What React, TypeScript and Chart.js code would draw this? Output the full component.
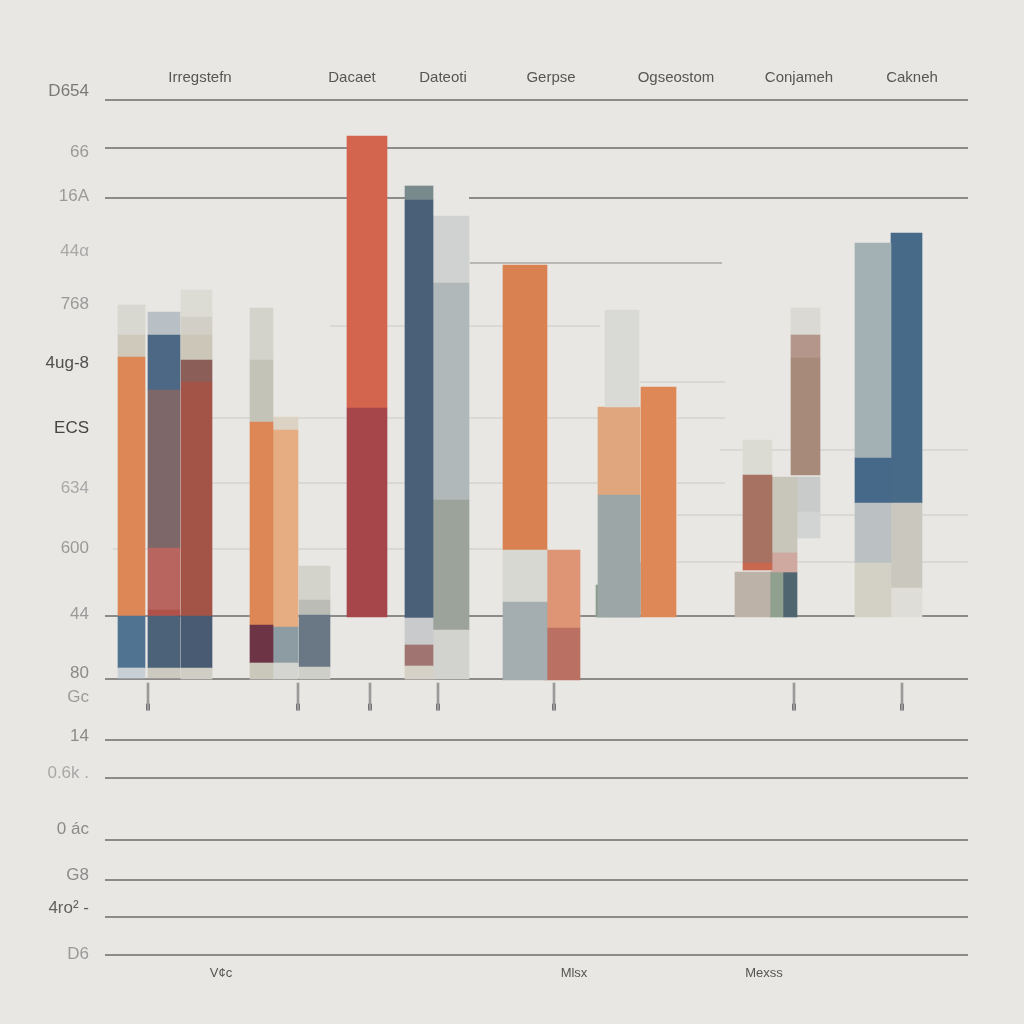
import React, { useEffect, useRef } from "react";
import { Chart, registerables } from "chart.js";

Chart.register(...registerables);

// ---- Axis labels / ticks ----
const topCategories = ["Irregstefn", "Dacaet", "Dateoti", "Gerpse", "Ogseostom", "Conjameh", "Cakneh"];
const topCategoryPos = [95, 247, 338, 446, 571, 694, 807];
const bottomCategories = ["V¢c", "Mlsx", "Mexss"];
const bottomCategoryPos = [116, 469, 659];
const yTickLabels = ["D654", "66", "16A", "44α", "768", "4ug-8", "ECS", "634", "600", "44", "80", "Gc", "14", "0.6k .", "0 ác", "G8", "4ro² -", "D6"];
const yTickValues = [864, 803, 759, 704, 651, 592, 527, 467, 407, 341, 282, 258, 219, 182, 126, 80, 47, 1];
const yTickColors = ["#7a7a7a", "#9a9a9a", "#9a9a9a", "#a8a8a8", "#999999", "#505050", "#454545", "#a8a8a8", "#999999", "#9a9a9a", "#8a8a8a", "#9a9a9a", "#8a8a8a", "#a8a8a8", "#8a8a8a", "#8a8a8a", "#606060", "#9a9a9a"];

// ---- Bar columns: value ranges [low, high] ----
const colA = [[620, 650], [598, 620], [339, 598], [287, 339], [277, 287]];
const colB = [[620, 643], [565, 620], [407, 565], [345, 407], [339, 345], [287, 339], [277, 287]];
const colC = [[638, 665], [620, 638], [595, 620], [573, 595], [339, 573], [287, 339], [276, 287]];
const colD = [[595, 647], [533, 595], [330, 533], [292, 330], [276, 292]];
const colE = [[525, 538], [328, 525], [292, 328], [276, 292]];
const colF = [[355, 389], [340, 355], [288, 340], [276, 288]];
const colG = [[547, 819], [338, 547]];
const colH = [[755, 769], [337, 755], [310, 337], [289, 310], [276, 289]];
const colI = [[672, 739], [455, 672], [325, 455], [276, 325]];
const colJ = [[405, 690], [353, 405], [275, 353]];
const colK = [[327, 405], [275, 327]];
const colL1 = [[548, 645]];
const colL2 = [[460, 548], [338, 460]];
const colL3 = [[338, 393]];
const colL4 = [[338, 370]];
const colM = [[338, 568]];
const colN0 = [[338, 383]];
const colN = [[480, 515], [392, 480], [385, 392]];
const colO = [[402, 478], [383, 402]];
const colO1 = [[338, 383]];
const colO2 = [[338, 383]];
const colP = [[620, 647], [597, 620], [480, 597]];
const colP1 = [[443, 478], [417, 443]];
const colQ = [[497, 712], [452, 497], [392, 452], [338, 392]];
const colR = [[452, 722], [367, 452], [338, 367]];

const columnRanges = [colA, colB, colC, colD, colE, colF, colG, colH, colI, colJ, colK, colL1, colL2, colL3, colL4, colM, colN0, colN, colO, colO1, colO2, colP, colP1, colQ, colR];
const columnPositions = [26.5, 59, 91.5, 156.5, 180.5, 209.5, 262, 314, 346, 420, 457.5, 517, 514, 521.5, 499.5, 553.5, 647.5, 652.5, 679.5, 671.5, 685, 700.5, 703.5, 768, 801.5];

// ---- styles ----
const columnWidths = [27, 32, 31, 23, 25, 31, 40, 28, 36, 44, 35, 34, 42, 27, 17, 35, 35, 29, 25, 13, 14, 29, 23, 36, 31];
const columnColors = [
  ["#d8d8d1", "#cfc9bb", "#dd8656", "#4f7390", "#c8d0d6"],
  ["#b8c0c6", "#4d6884", "#7d6769", "#b8645f", "#b0524a", "#4c6279", "#cbc9c0"],
  ["#dcdcd5", "#d2d0c6", "#ccc6b8", "#8c5e58", "#a45447", "#485b72", "#cfcdc4"],
  ["#d3d3cc", "#c4c3b8", "#dd8656", "#6c3444", "#c9c8bb"],
  ["#ddd3c5", "#e6ad82", "#8d9ca3", "#d4d5d0"],
  ["#d3d3cb", "#babcb5", "#6a7785", "#cfcfca"],
  ["#d3654f", "#a6464b"],
  ["#788a8c", "#4a5f78", "#c9cacb", "#a07470", "#d5d1c6"],
  ["#cfd2d0", "#b0b8b9", "#9ba39a", "#d2d3cf"],
  ["#d98150", "#d8d8d2", "#a4aeb0"],
  ["#dd9575", "#bb7064"],
  ["#d9dad5"],
  ["#e0a67e", "#9ca6a6"],
  ["#6b7889"],
  ["#8b9b8d"],
  ["#de8857"],
  ["#bcb2a7"],
  ["#dcdbd3", "#a87263", "#c8684f"],
  ["#c8c5bb", "#cfa8a0"],
  ["#8fa08f"],
  ["#4f6570"],
  ["#dbd9d3", "#b4968a", "#a88a7b"],
  ["#c9cbca", "#d2d4d3"],
  ["#a4b1b4", "#46698a", "#bbc1c3", "#d3d1c5"],
  ["#466a88", "#cac8be", "#dfddd7"],
];

// ---- small tick markers below the baseline ----
const markerPositions = [43, 193, 265, 333, 449, 689, 797];
const markerStem = [245, 272];
const markerTip = [245, 251];

// ---- horizontal rules: [value, xFrom, xTo] ----
const majorRules = [[855, 0, 863], [807, 0, 863], [757, 0, 328], [757, 364, 863], [339, 0, 863], [276, 0, 863], [215, 0, 863], [177, 0, 863], [115, 0, 863], [75, 0, 863], [38, 0, 863], [0, 0, 863]];
const midRules = [[692, 365, 617]];
const faintRules = [[629, 225, 495], [573, 535, 620], [537, 107, 145], [537, 193, 495], [537, 572, 620], [505, 615, 863], [472, 107, 495], [472, 572, 620], [440, 572, 863], [406, 8, 397], [393, 572, 863]];

const FONT = "'Liberation Sans', Arial, 'DejaVu Sans', sans-serif";

function rulesToPoints(rules: number[][]) {
  const pts: { x: number; y: number | null }[] = [];
  rules.forEach(([v, x0, x1]) => {
    pts.push({ x: x0, y: v }, { x: x1, y: v }, { x: x1, y: null });
  });
  return pts;
}

export default function App() {
  const ref = useRef<HTMLCanvasElement | null>(null);

  useEffect(() => {
    if (!ref.current) return;
    Chart.defaults.font.family = FONT;

    const barSets: any[] = columnRanges.map((ranges, i) => ({
      type: "bar",
      data: ranges.map((r) => ({ x: columnPositions[i], y: r })),
      backgroundColor: columnColors[i],
      barThickness: columnWidths[i],
      grouped: false,
      borderWidth: 0,
      order: 1,
    }));

    const markerSets: any[] = [
      {
        type: "bar",
        data: markerPositions.map((p) => ({ x: p, y: markerStem })),
        backgroundColor: "#9a9a9a",
        barThickness: 2,
        grouped: false,
        order: 1,
      },
      {
        type: "bar",
        data: markerPositions.map((p) => ({ x: p, y: markerTip })),
        backgroundColor: "#4a4a4a",
        barThickness: 3,
        grouped: false,
        order: 1,
      },
    ];

    const lineBase = { type: "line", pointRadius: 0, spanGaps: false, fill: false, tension: 0, order: 10 };
    const lineSets: any[] = [
      { ...lineBase, data: rulesToPoints(faintRules), borderColor: "#cbcac5", borderWidth: 1.2 },
      { ...lineBase, data: rulesToPoints(midRules), borderColor: "#a9a9a5", borderWidth: 1.3 },
      { ...lineBase, data: rulesToPoints(majorRules), borderColor: "#6e6e6e", borderWidth: 1.7, clip: false },
    ];

    const chart = new Chart(ref.current, {
      type: "bar",
      data: { datasets: [...lineSets, ...barSets, ...markerSets] },
      options: {
        responsive: false,
        animation: false,
        devicePixelRatio: 1,
        layout: { padding: { left: 0, right: 56, top: 0, bottom: 0 } },
        plugins: { legend: { display: false }, tooltip: { enabled: false }, title: { display: false } },
        scales: {
          x: {
            type: "linear",
            min: 0,
            max: 863,
            offset: false,
            bounds: "data",
            grid: { display: false, drawTicks: false, offset: false },
            border: { display: false },
            afterBuildTicks: (axis: any) => {
              axis.ticks = bottomCategoryPos.map((v) => ({ value: v }));
            },
            afterFit: (axis: any) => {
              axis.height = 69;
            },
            ticks: {
              autoSkip: false,
              maxRotation: 0,
              minRotation: 0,
              padding: 11,
              color: "#555555",
              font: { size: 13, family: FONT },
              callback: (_v: any, i: number) => bottomCategories[i],
            },
          },
          xTop: {
            type: "linear",
            position: "top",
            min: 0,
            max: 863,
            offset: false,
            bounds: "data",
            grid: { display: false, drawTicks: false, offset: false },
            border: { display: false },
            afterBuildTicks: (axis: any) => {
              axis.ticks = topCategoryPos.map((v) => ({ value: v }));
            },
            afterFit: (axis: any) => {
              axis.height = 86;
            },
            ticks: {
              autoSkip: false,
              maxRotation: 0,
              minRotation: 0,
              padding: -1,
              color: "#565656",
              font: { size: 15, family: FONT },
              callback: (_v: any, i: number) => topCategories[i],
            },
          },
          y: {
            type: "linear",
            min: 0,
            max: 869,
            bounds: "data",
            grid: { display: false, drawTicks: false },
            border: { display: false },
            afterBuildTicks: (axis: any) => {
              axis.ticks = yTickValues.map((v) => ({ value: v }));
            },
            afterFit: (axis: any) => {
              axis.width = 105;
            },
            ticks: {
              autoSkip: false,
              padding: 16,
              color: (ctx: any) => yTickColors[ctx.index] || "#999",
              font: { size: 17, family: FONT },
              callback: (_v: any, i: number) => yTickLabels[i],
            },
          },
        },
      } as any,
    });

    return () => chart.destroy();
  }, []);

  return (
    <div style={{ position: "absolute", left: 0, top: 0, width: 1024, height: 1024, background: "#e8e7e3", overflow: "hidden" }}>
      <canvas ref={ref} width={1024} height={1024} style={{ display: "block" }} />
    </div>
  );
}
